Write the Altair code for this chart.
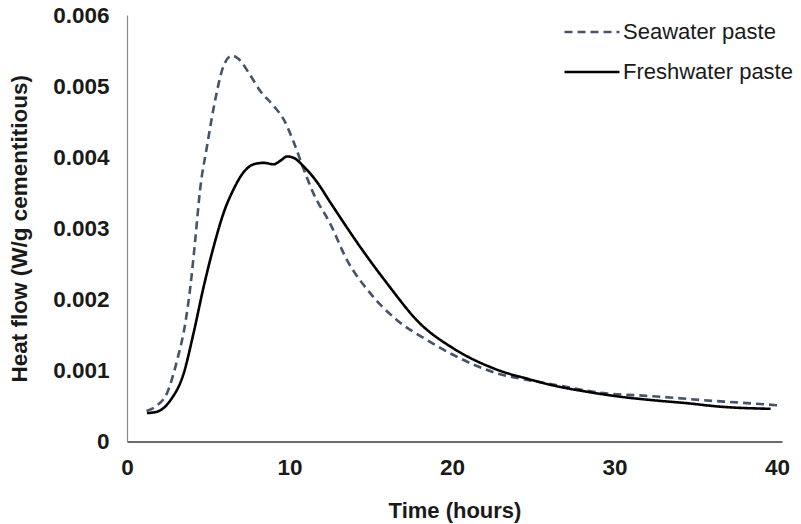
import altair as alt
import pandas as pd

sea_x = [1.2, 1.8, 2.46, 3.08, 3.59, 3.9, 4.2, 4.5, 4.92, 5.44, 5.95, 6.46, 6.87, 7.59, 8.2,
         9.03, 9.64, 10.26, 10.87, 11.49, 12.49, 13.52, 14.95, 16.6, 18.44, 20.49, 22.75,
         24.8, 27.0, 29.3, 31.4, 33.4, 35.5, 37.5, 40.0]
sea_y = [0.00043, 0.00050, 0.00068, 0.00114, 0.00167, 0.00218, 0.00284, 0.00355, 0.00415,
         0.00482, 0.00529, 0.00543, 0.00538, 0.00515, 0.00493, 0.00472, 0.00453, 0.00421,
         0.00383, 0.00348, 0.00307, 0.00256, 0.00209, 0.00171, 0.00143, 0.00117, 0.00096,
         0.00086, 0.00077, 0.00068, 0.00065, 0.00062, 0.00058, 0.00055, 0.00051]

fresh_x = [1.23, 1.85, 2.67, 3.49, 4.1, 4.72, 5.33, 5.95, 6.56, 7.18, 7.8, 8.41, 9.03, 9.44,
           9.85, 10.26, 10.87, 11.69, 12.49, 14.34, 15.98, 18.03, 20.08, 22.54, 25.0, 26.2,
           28.3, 30.34, 32.4, 34.4, 36.5, 39.6]
fresh_y = [0.00040, 0.00042, 0.00058, 0.00096, 0.00153, 0.00218, 0.00274, 0.00322, 0.00355,
           0.00379, 0.00390, 0.00392, 0.00390, 0.00395, 0.00401, 0.00399, 0.00387, 0.00365,
           0.00337, 0.00274, 0.00223, 0.00166, 0.00131, 0.00103, 0.00086, 0.00079, 0.00070,
           0.00063, 0.00058, 0.00054, 0.00049, 0.00046]

series = ["Seawater paste", "Freshwater paste"]
x_ticks = [0, 10, 20, 30, 40]
y_ticks = [0, 0.001, 0.002, 0.003, 0.004, 0.005, 0.006]

df = pd.concat([
    pd.DataFrame({"t": sea_x, "q": sea_y, "s": series[0], "o": range(len(sea_x))}),
    pd.DataFrame({"t": fresh_x, "q": fresh_y, "s": series[1], "o": range(len(fresh_x))}),
])

FONT = "Liberation Sans, Arial, sans-serif"

legend_opts = dict(title=None, orient="none", legendX=436, legendY=-12,
                   symbolType="stroke", symbolSize=3025, symbolStrokeWidth=2.6,
                   labelFontSize=22, labelOffset=2, rowPadding=0, labelLimit=400)

chart = alt.Chart(df).mark_line(interpolate="monotone", strokeWidth=2.6).encode(
    x=alt.X("t:Q", title="Time (hours)",
            scale=alt.Scale(domain=[0, 40.3], nice=False),
            axis=alt.Axis(values=x_ticks, ticks=False, grid=False, domainColor="#6b6b6b",
                          domainWidth=2, labelFontSize=22.5, labelFontWeight="bold",
                          labelPadding=15, titleFontSize=22, titleFontWeight="bold",
                          titlePadding=21, labelFlush=False)),
    y=alt.Y("q:Q", title="Heat flow (W/g cementitious)",
            scale=alt.Scale(domain=[0, 0.006], nice=False),
            axis=alt.Axis(values=y_ticks, ticks=False, grid=False, domainColor="#8a8a8a",
                          domainWidth=1.2, labelFontSize=22.5, labelFontWeight="bold",
                          labelPadding=18, titleFontSize=22.5, titleFontWeight="bold",
                          titlePadding=21, labelFlush=False,
                          labelExpr="datum.value == 0 ? '0' : format(datum.value, '.3f')")),
    color=alt.Color("s:N", scale=alt.Scale(domain=series, range=["#44546A", "#000000"]),
                    legend=alt.Legend(**legend_opts)),
    strokeDash=alt.StrokeDash("s:N", scale=alt.Scale(domain=series, range=[[8, 5], [1, 0]]),
                              legend=alt.Legend(**legend_opts)),
    order="o:Q",
).properties(
    width=655, height=426.5,
    autosize=alt.AutoSizeParams(type="none"),
    padding={"left": 127, "top": 15, "right": 19, "bottom": 82},
).configure(font=FONT).configure_view(stroke=None).configure_axis(
    labelColor="#1a1a1a", titleColor="#1a1a1a", labelFont=FONT, titleFont=FONT
).configure_legend(labelFont=FONT, labelColor="#1a1a1a")

chart.save("out.html", embed_options={"renderer": "svg", "actions": False})
